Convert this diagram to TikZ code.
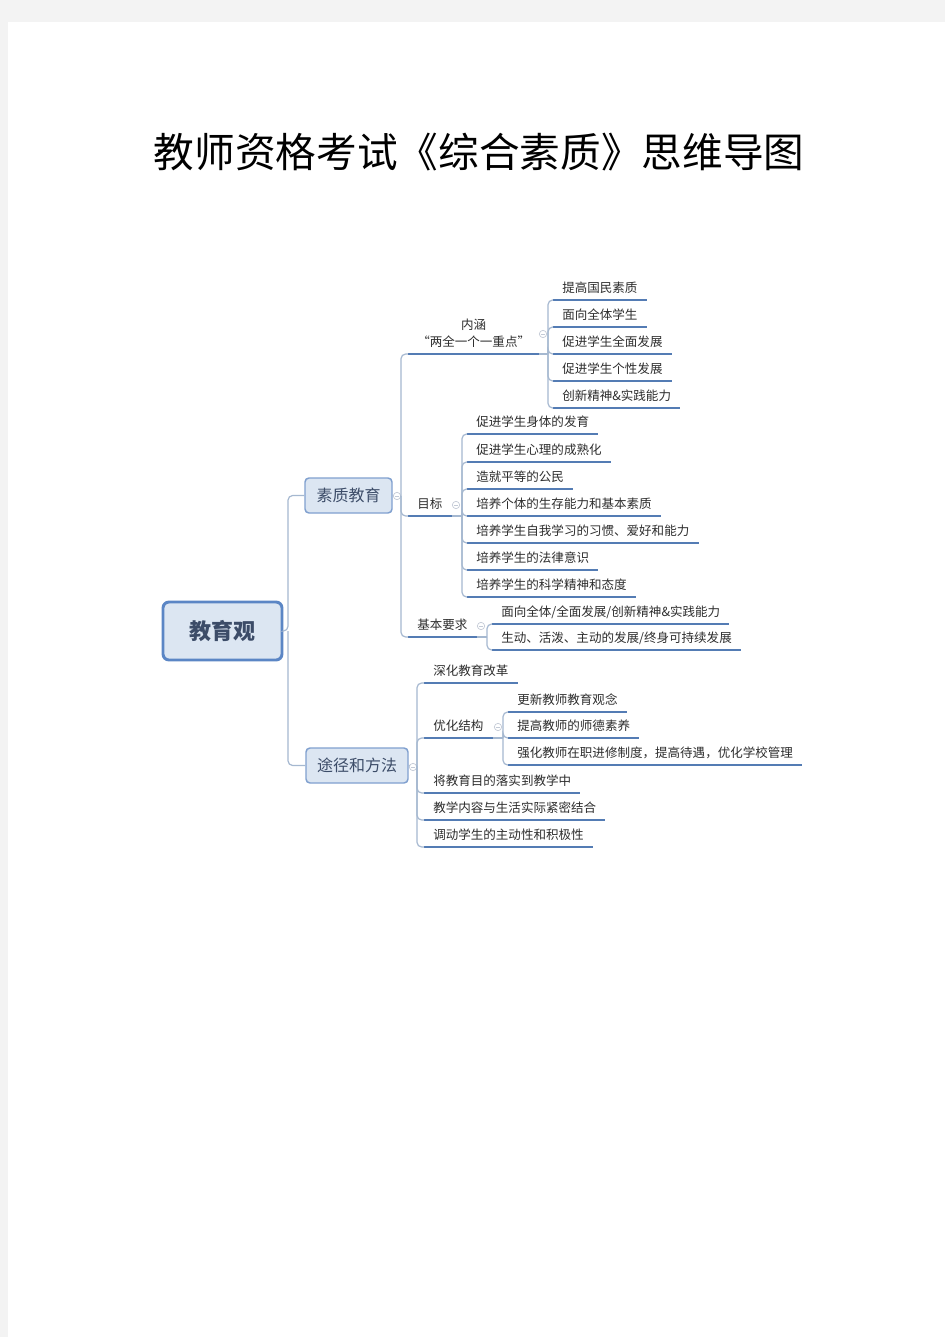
\documentclass[tikz,border=0pt]{standalone}
\usepackage{fontspec}
\setmainfont{Noto Sans CJK SC}
\usepackage{xcolor}
\usepackage{tikz}
\usetikzlibrary{positioning}

\definecolor{pagegray}{RGB}{243,243,243}
\definecolor{boxfill}{RGB}{220,230,242}
\definecolor{boxline}{RGB}{128,160,207}
\definecolor{rootline}{RGB}{91,134,197}
\definecolor{boxtext}{RGB}{60,76,104}
\definecolor{ulineblue}{RGB}{84,124,180}
\definecolor{connblue}{RGB}{165,184,208}
\definecolor{leaftext}{RGB}{45,45,45}
\definecolor{foldgray}{RGB}{195,202,214}

\tikzset{
  box/.style={draw=boxline, fill=boxfill, rounded corners=3pt, line width=1.1pt,
    text=boxtext, font=\fontsize{12}{14}\selectfont, minimum height=26.25pt},
  rootbox/.style={box, draw=rootline, line width=2.2pt, rounded corners=4.5pt,
    font=\fontsize{16.5}{18}\selectfont\bfseries, minimum width=89.25pt, minimum height=43.5pt},
  uline/.style={draw=ulineblue, line width=1.5pt},
  topic/.style={anchor=south west, inner xsep=6.75pt, inner ysep=4.5pt, text depth=1pt,
    text=leaftext, font=\fontsize{9.4}{12.75}\selectfont,
    append after command={(\tikzlastnode.south west) edge[uline] (\tikzlastnode.south east)}},
  conn/.style={draw=connblue, line width=0.9pt, rounded corners=3.5pt},
  fold/.style={circle, draw=foldgray, fill=white, line width=0.5pt, inner sep=0pt, minimum size=5.5pt,
    path picture={\draw[foldgray] ([xshift=-1.5pt]path picture bounding box.center) -- ([xshift=1.5pt]path picture bounding box.center);}}
}

\begin{document}
\begin{tikzpicture}[x=0.75pt,y=-0.75pt]
  \fill[pagegray] (0,0) rectangle (945,1337);
  \fill[white] (8,22) rectangle (945,1337);
  \node[font=\fontsize{30.5}{32}\selectfont] (title) at (479,152) {教师资格考试《综合素质》思维导图};

  \node[rootbox] (root) at (222.5,631) {教育观};
  \node[box, minimum width=65.25pt] (sz) at (348.5,495.5) {素质教育};
  \node[box, minimum width=76.5pt] (tj) at (357,765.5) {途径和方法};
  \coordinate (rj) at (288,631);
  \draw[conn] (root.east) -- (rj) |- (sz.west);
  \draw[conn] (rj) |- (tj.west);

  \coordinate (sj) at (401,496);
  \draw[conn] (sz.east) -- (sj);
  \node[fold] (szf) at (397,496) {};
  \node[topic, minimum width=96.75pt, align=center] (nh) at (408,354) {内涵\\“两全一个一重点”};
  \node[topic] (mb) at (408,516) {目标};
  \node[topic] (jb) at (408,637) {基本要求};
  \draw[conn] (sj) |- (nh.south west);
  \draw[conn] (sj) |- (mb.south west);
  \draw[conn] (sj) |- (jb.south west);

  \coordinate (nhj) at (548,354);
  \draw[conn] (nh.south east) -- (nhj);
  \node[fold] (nhf) at (543,334) {};
  \node[topic] (n1) at (553,300) {提高国民素质};
  \node[topic] (n2) at (553,327) {面向全体学生};
  \node[topic] (n3) at (553,354) {促进学生全面发展};
  \node[topic] (n4) at (553,381) {促进学生个性发展};
  \node[topic] (n5) at (553,408) {创新精神\&实践能力};
  \draw[conn] (nhj) |- (n1.south west);
  \draw[conn] (nhj) |- (n2.south west);
  \draw[conn] (nhj) |- (n3.south west);
  \draw[conn] (nhj) |- (n4.south west);
  \draw[conn] (nhj) |- (n5.south west);

  \coordinate (mbj) at (462,516);
  \draw[conn] (mb.south east) -- (mbj);
  \node[fold] (mbf) at (456,505) {};
  \node[topic] (g1) at (467,434) {促进学生身体的发育};
  \node[topic] (g2) at (467,462) {促进学生心理的成熟化};
  \node[topic] (g3) at (467,489) {造就平等的公民};
  \node[topic] (g4) at (467,516) {培养个体的生存能力和基本素质};
  \node[topic] (g5) at (467,543) {培养学生自我学习的习惯、爱好和能力};
  \node[topic] (g6) at (467,570) {培养学生的法律意识};
  \node[topic] (g7) at (467,597) {培养学生的科学精神和态度};
  \draw[conn] (mbj) |- (g1.south west);
  \draw[conn] (mbj) |- (g2.south west);
  \draw[conn] (mbj) |- (g3.south west);
  \draw[conn] (mbj) |- (g4.south west);
  \draw[conn] (mbj) |- (g5.south west);
  \draw[conn] (mbj) |- (g6.south west);
  \draw[conn] (mbj) |- (g7.south west);

  \coordinate (jbj) at (487,637);
  \draw[conn] (jb.south east) -- (jbj);
  \node[fold] (jbf) at (481,626) {};
  \node[topic] (r1) at (492,624) {面向全体/全面发展/创新精神\&实践能力};
  \node[topic] (r2) at (492,650) {生动、活泼、主动的发展/终身可持续发展};
  \draw[conn] (jbj) |- (r1.south west);
  \draw[conn] (jbj) |- (r2.south west);

  \coordinate (tjj) at (417,766);
  \draw[conn] (tj.east) -- (tjj);
  \node[fold] (tjf) at (413,767) {};
  \node[topic] (t1) at (424,683) {深化教育改革};
  \node[topic] (t2) at (424,738) {优化结构};
  \node[topic] (t3) at (424,793) {将教育目的落实到教学中};
  \node[topic] (t4) at (424,820) {教学内容与生活实际紧密结合};
  \node[topic] (t5) at (424,847) {调动学生的主动性和积极性};
  \draw[conn] (tjj) |- (t1.south west);
  \draw[conn] (tjj) |- (t2.south west);
  \draw[conn] (tjj) |- (t3.south west);
  \draw[conn] (tjj) |- (t4.south west);
  \draw[conn] (tjj) |- (t5.south west);

  \coordinate (yhj) at (503,738);
  \draw[conn] (t2.south east) -- (yhj);
  \node[fold] (yhf) at (498,727) {};
  \node[topic] (y1) at (508,712) {更新教师教育观念};
  \node[topic] (y2) at (508,738) {提高教师的师德素养};
  \node[topic] (y3) at (508,765) {强化教师在职进修制度，提高待遇，优化学校管理};
  \draw[conn] (yhj) |- (y1.south west);
  \draw[conn] (yhj) |- (y2.south west);
  \draw[conn] (yhj) |- (y3.south west);
\end{tikzpicture}
\end{document}
